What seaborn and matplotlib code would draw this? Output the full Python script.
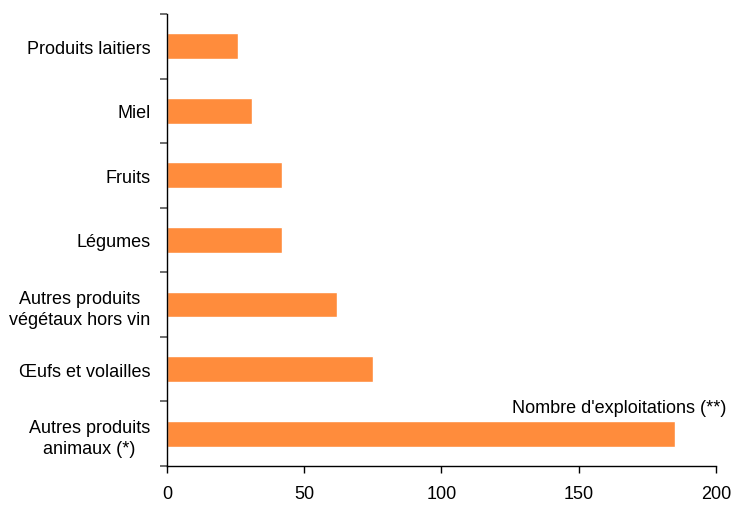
import numpy as np
import pandas as pd
import matplotlib
matplotlib.use("Agg")
import matplotlib.pyplot as plt
import seaborn as sns

# Data (top to bottom)
categories = ["Produits laitiers", "Miel", "Fruits", "Légumes",
              "Autres produits\nvégétaux hors vin", "Œufs et volailles",
              "Autres produits\nanimaux (*)"]
values = [26, 31, 42, 42, 62, 75, 185]
x_ticks = [0, 50, 100, 150, 200]

df = pd.DataFrame({"categorie": categories, "valeur": values})

sns.set_style("white")
plt.rcParams['font.family'] = ['Liberation Sans', 'DejaVu Sans']
plt.rcParams['text.color'] = 'black'
plt.rcParams['xtick.color'] = 'black'
plt.rcParams['ytick.color'] = 'black'

fig = plt.figure(figsize=(7.33, 5.06), dpi=100)
ax = fig.add_axes([0.2278, 0.0771, 0.749, 0.8933])

sns.barplot(data=df, y="categorie", x="valeur", order=categories,
            color="#FF8C3C", saturation=1, width=0.4, ax=ax)

ax.set_xlim(0, 200)
ax.set_ylim(len(categories) - 0.5, -0.5)
ax.set_xticks(x_ticks)
ax.set_xticklabels([str(t) for t in x_ticks], fontsize=13)
ax.tick_params(axis="x", bottom=True, direction="out", length=5, width=1,
               color="black", labelcolor="black", pad=9)

# category labels without ticks, ticks at boundaries
ax.set_yticks(range(len(categories)))
ax.set_yticklabels(categories, fontsize=13, ha="right", multialignment="center",
                   linespacing=1.35)
ax.tick_params(axis="y", which="major", left=False, length=0, pad=12, labelcolor="black")
ax.set_yticks(np.arange(-0.5, len(categories), 1), minor=True)
ax.tick_params(axis="y", which="minor", left=True, direction="out", length=5,
               width=1.2, color="#555555")

ax.set_xlabel("")
ax.set_ylabel("")
for s in ["top", "right"]:
    ax.spines[s].set_visible(False)
for s in ["left", "bottom"]:
    ax.spines[s].set_color("black")
    ax.spines[s].set_linewidth(1)

ax.text(203.6, len(categories) - 1.4, "Nombre d'exploitations (**)",
        ha="right", va="center", fontsize=13)

plt.savefig("out.png", dpi=100)
